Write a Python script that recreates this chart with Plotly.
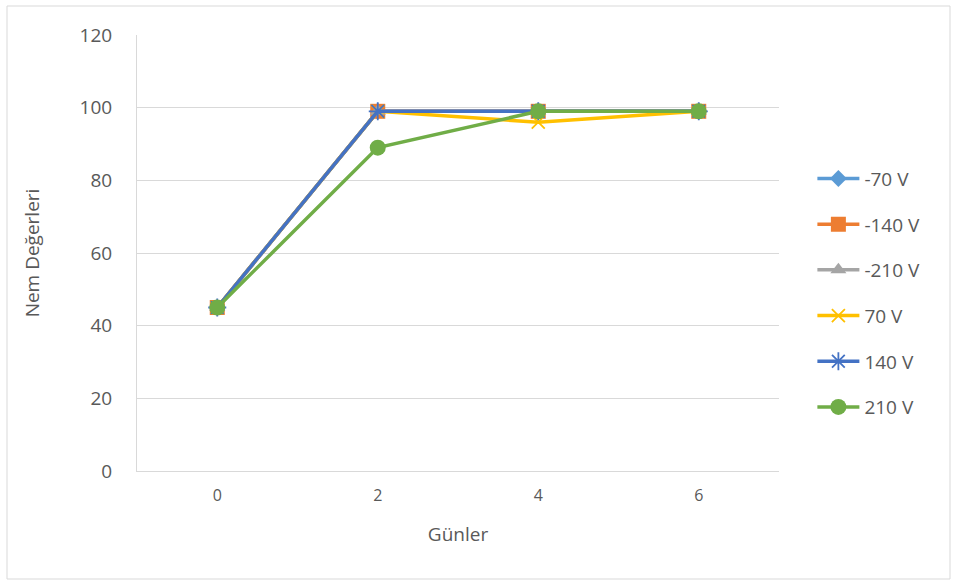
import plotly.graph_objects as go

days = ["0", "2", "4", "6"]
series_names = ["-70 V", "-140 V", "-210 V", "70 V", "140 V", "210 V"]
neg70 = [45, 99, 99, 99]
neg140 = [45, 99, 99, 99]
neg210 = [45, 99, 99, 99]
pos70 = [45, 99, 96, 99]
pos140 = [45, 99, 99, 99]
pos210 = [45, 89, 99, 99]

values = [neg70, neg140, neg210, pos70, pos140, pos210]
colors = ["#5B9BD5", "#ED7D31", "#A5A5A5", "#FFC000", "#4472C4", "#70AD47"]
symbols = ["diamond", "square", "triangle-up", "x-thin", "asterisk-open", "circle"]
sizes = [13, 15, 14, 13, 15, 16]

fig = go.Figure()
for i, (name, vals) in enumerate(zip(series_names, values)):
    sym = symbols[i]
    marker = dict(symbol=sym, size=sizes[i], color=colors[i])
    if sym in ("x-thin", "asterisk-open"):
        marker["line"] = dict(color=colors[i], width=1.8)
    fig.add_trace(go.Scatter(
        x=days, y=vals, name=name, mode="lines+markers",
        line=dict(color=colors[i], width=3.5),
        marker=marker, legendgroup=name,
    ))

font_family = "Open Sans, Liberation Sans, sans-serif"
text_color = "#595959"
fig.update_layout(
    width=960, height=582,
    margin=dict(l=137, r=181, t=35, b=111),
    paper_bgcolor="white", plot_bgcolor="white",
    font=dict(family=font_family, color=text_color),
    showlegend=True,
    legend=dict(x=1.052, y=0.408, xanchor="left", yanchor="middle",
                font=dict(size=19, color=text_color), tracegroupgap=18,
                itemwidth=42),
    xaxis=dict(
        type="category", range=[-0.5, 3.5],
        title=dict(text="Günler", font=dict(size=19, color=text_color), standoff=22),
        tickfont=dict(size=16, color=text_color),
        ticklabelstandoff=10,
        showgrid=False, showline=True, linecolor="#d9d9d9", linewidth=1,
        ticks="", zeroline=False,
    ),
    yaxis=dict(
        range=[0, 120], dtick=20,
        title=dict(text="Nem Değerleri", font=dict(size=19, color=text_color), standoff=34),
        tickfont=dict(size=19, color=text_color),
        ticklabelstandoff=20,
        showgrid=True, gridcolor="#d9d9d9", gridwidth=1,
        zeroline=False, showline=True, linecolor="#d9d9d9", linewidth=1, ticks="",
    ),
    shapes=[dict(type="rect", xref="paper", yref="paper",
                 x0=-130 / 642, x1=(950 - 137) / 642,
                 y0=(471 - 579) / 436, y1=(471 - 6) / 436,
                 line=dict(color="#d9d9d9", width=1), fillcolor="rgba(0,0,0,0)",
                 layer="below")],
)

fig.write_html("out.html")
